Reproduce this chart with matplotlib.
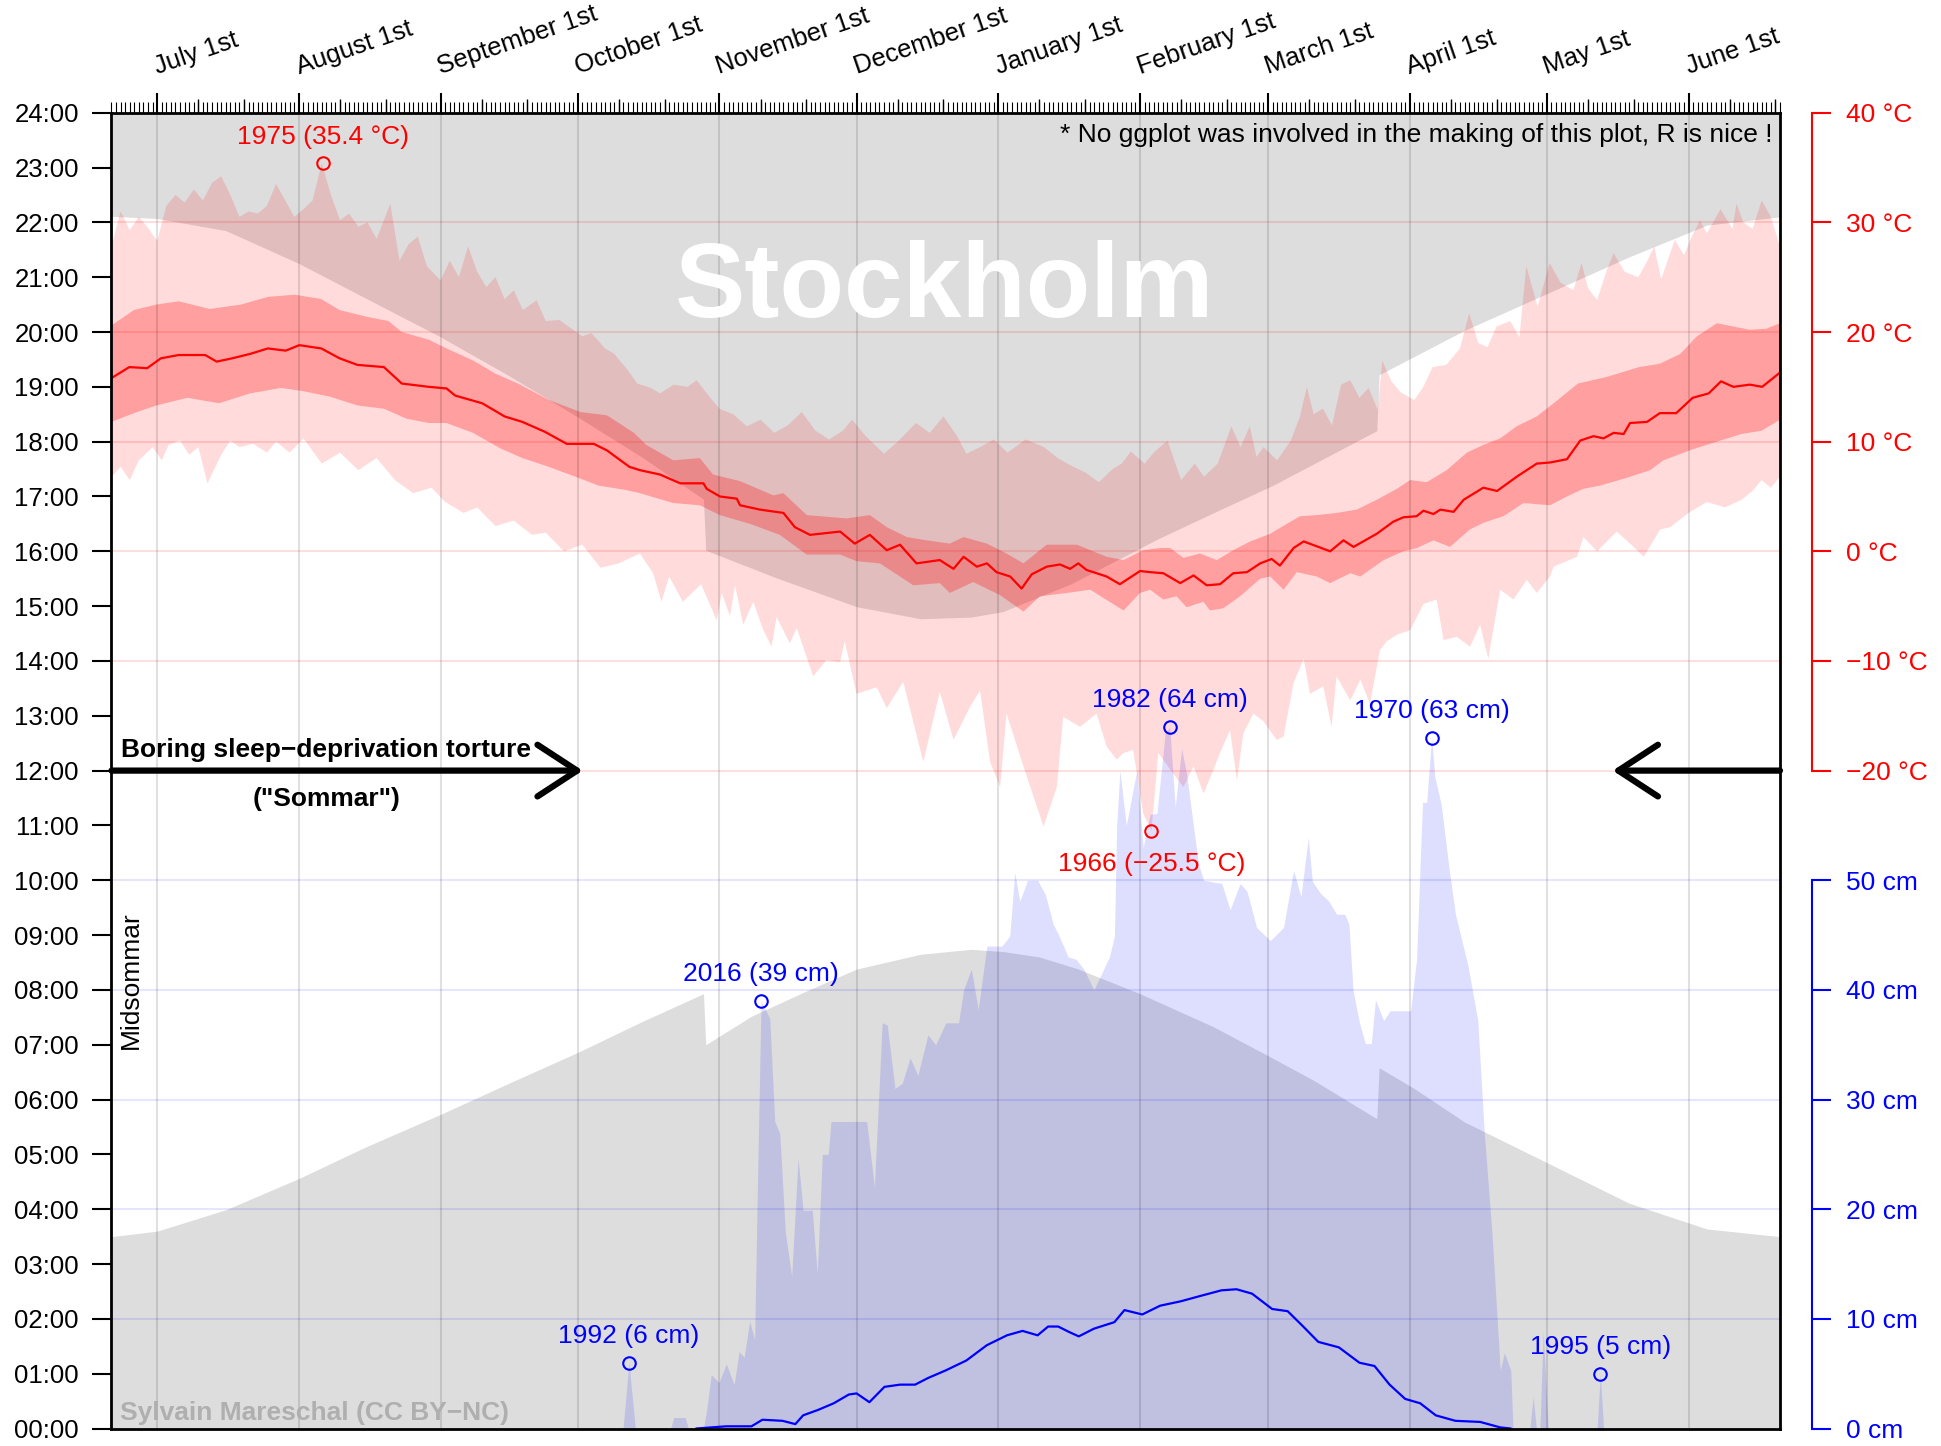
import numpy as np
import matplotlib
matplotlib.use("Agg")
import matplotlib.pyplot as plt
from matplotlib.ticker import FixedLocator

plt.rcParams['font.family'] = ['Liberation Sans', 'DejaVu Sans']
MINUS = '\u2212'

# ---------------- data (x = days since June 21st, midsommar) ----------------
month_days = [10, 41, 72, 102, 133, 163, 194, 225, 253, 284, 314, 345]
month_labels = ['July 1st', 'August 1st', 'September 1st', 'October 1st',
                'November 1st', 'December 1st', 'January 1st', 'February 1st',
                'March 1st', 'April 1st', 'May 1st', 'June 1st']

# sunrise / sunset, local clock time in hours (DST steps end of Oct / end of Mar)
sunrise = [(0, 3.50), (10, 3.60), (25, 3.99), (41, 4.56), (56, 5.15), (72, 5.73),
           (87, 6.30), (102, 6.86), (116, 7.42), (129.5, 7.93), (130, 7.00),
           (140, 7.52), (152, 7.98), (163, 8.38), (177, 8.65), (188, 8.74),
           (195, 8.70), (203, 8.60), (211.5, 8.38), (225, 7.93), (241, 7.33),
           (253, 6.80), (263, 6.35), (276.8, 5.65), (277.3, 6.58), (285, 6.20),
           (296, 5.59), (314, 4.85), (332, 4.11), (349, 3.64), (365, 3.50)]
sunset = [(0, 22.11), (10, 22.07), (25, 21.85), (41, 21.25), (56, 20.60),
          (72, 19.91), (87, 19.20), (102, 18.45), (116, 17.72), (129.5, 16.95),
          (130, 16.02), (145, 15.53), (163, 14.99), (177, 14.77), (188, 14.80),
          (195, 14.90), (210, 15.41), (229, 16.23), (241, 16.70), (254, 17.20),
          (276.8, 18.20), (277.3, 19.22), (296, 20.03), (314, 20.70),
          (332, 21.37), (349, 21.95), (365, 22.10)]

# temperatures (deg C)
record_max = [(0,27.8),(2,31.0),(4,29.3),(6,30.5),(8,29.5),(10,28.3),(12,31.5),(14,32.5),(16,31.8),
    (18,33.0),(20,32.0),(22,33.6),(24,34.2),(26,32.5),(28,30.5),(30,31.0),(32,30.8),(34,31.5),
    (36,33.5),(38,32.0),(40,30.5),(42,31.2),(44,32.0),(46,35.4),(48,32.5),(50,30.2),(52,30.8),
    (54,29.6),(56,30.0),(58,28.5),(61,31.7),(63,26.5),(65,28.0),(67,28.7),(69,26.0),(72,24.7),
    (74,26.5),(76,25.0),(78,27.8),(80,25.5),(82,24.1),(84,25.0),(86,23.0),(88,23.8),(90,22.0),
    (93,22.9),(95,21.0),(98,21.1),(100,20.5),(103,19.6),(105,19.9),(108,18.5),(110,18.0),
    (113,16.5),(115,15.3),(118,14.9),(120,14.4),(123,15.2),(126,15.0),(128,15.6),(131,14.0),
    (133,13.0),(136,12.5),(139,11.4),(142,12.0),(145,10.8),(148,11.5),(151,12.7),(154,11.0),
    (157,10.2),(160,11.0),(162,12.0),(165,10.5),(169,8.9),(172,10.0),(176,11.7),(179,10.8),
    (182,12.3),(185,10.5),(187,8.9),(190,9.5),(193,10.2),(196,9.0),(200,10.2),(204,9.5),
    (207,8.5),(210,7.8),(213,7.2),(216,6.3),(219,7.5),(221,8.0),(223,9.1),(226,8.0),(228,9.0),
    (231,10.1),(234,6.5),(237,8.0),(239,6.8),(242,8.0),(245,11.4),(247,9.5),(249,11.4),
    (250.5,8.6),(252,9.5),(255,8.3),(258,10.1),(260,12.3),(261.5,15.0),(263,12.5),(265,13.0),
    (267,11.5),(269,15.2),(271,15.6),(273,14.0),(275,14.9),(277,12.9),(278,17.4),(280,15.5),
    (282,14.5),(285,13.8),(287,15.0),(289,16.8),(292,17.0),(295,18.5),(297,21.7),(299,19.0),
    (301,18.6),(303,20.5),(306,21.0),(308,19.5),(309.5,26.0),(312,22.3),(314.6,26.3),(317,24.5),
    (319.8,23.8),(321.6,26.3),(323,24.0),(325,22.9),(327,25.5),(328.6,27.2),(331,25.5),
    (334,25.0),(336,26.5),(337.5,27.8),(339,24.8),(342,28.4),(344,27.0),(345.5,28.5),
    (347.5,30.2),(349,29.0),(352,31.2),(354.6,29.4),(355.5,31.7),(357,30.0),(359,29.4),
    (361,32.0),(363,30.5),(365,27.8)]

record_min = [(0,6.8),(2,7.7),(4,6.5),(6,8.3),(9,9.5),(11,8.3),(12.5,9.7),(15,10.1),(17,8.8),
    (19,9.5),(21,6.2),(24,8.8),(26,10.1),(28,9.5),(31,9.8),(34,9.0),(36,10.0),(39,9.0),(42,10.3),
    (46,8.0),(50,9.0),(54,7.4),(58,8.5),(62,6.5),(66,5.3),(70,5.8),(73,4.5),(77,3.5),(80,4.0),
    (84,2.3),(88,2.8),(92,1.5),(95,1.7),(99,0.0),(103,0.6),(107,-1.5),(111,-1.1),(115.6,-0.2),
    (118.5,-2.0),(120.3,-4.6),(122,-2.3),(125,-4.6),(129,-3.0),(132.4,-6.3),(133.5,-3.8),
    (135.3,-5.9),(136.4,-3.1),(138.2,-6.7),(140.4,-4.6),(142.6,-7.2),(144.4,-8.7),(145.5,-6.0),
    (148.4,-8.4),(149.9,-7.0),(153.5,-11.4),(156.4,-9.9),(159.4,-10.1),(160.4,-8.2),(163,-13.0),
    (167.4,-12.4),(169.6,-14.3),(173.2,-11.9),(177.6,-19.2),(181.2,-12.8),(184.2,-17.2),
    (187.8,-14.2),(190,-12.7),(192.2,-19.2),(194.4,-21.5),(195.8,-14.8),(199.5,-19.6),
    (203.9,-25.1),(206.8,-21.5),(208.2,-15.1),(211.9,-16.0),(215.5,-14.8),(217.7,-17.8),
    (219.9,-19.0),(221.4,-18.4),(223.5,-18.1),(225.7,-23.9),(227.5,-25.5),(229,-18.4),
    (231.6,-19.9),(234.5,-21.5),(236.7,-19.6),(238.9,-22.1),(240.7,-20.3),(242.5,-18.4),
    (244.7,-16.3),(246.2,-20.9),(247.6,-16.6),(249.8,-14.8),(252,-15.5),(254.9,-17.2),
    (256.4,-16.9),(258.6,-12.0),(260.8,-9.8),(262.2,-13.0),(265.1,-12.3),(266.9,-16.0),
    (268,-11.4),(271,-13.6),(273.2,-11.7),(275.3,-13.9),(277.5,-9.0),(279,-8.2),(281.2,-7.6),
    (284.1,-7.2),(287,-4.8),(289.9,-4.4),(291.4,-8.1),(294.3,-7.8),(297.2,-8.7),(299.4,-6.7),
    (301.2,-9.8),(303.8,-3.5),(306.7,-4.4),(309.6,-2.6),(311.8,-3.8),(314.7,-2.3),(315.5,-1.4),
    (320.6,-0.5),(322,1.3),(325,0.0),(329.3,1.8),(333,0.4),(335.2,-0.5),(338.8,2.0),(341,2.2),
    (345,3.5),(349,4.5),(353,4.0),(356.6,4.7),(359,5.5),(361,6.5),(363,5.8),(365,6.8)]

band_high = [(0,20.6),(4.9,22.0),(9.8,22.5),(14.7,22.8),(21.5,22.1),(28.3,22.5),(34.2,23.2),
    (40.1,23.4),(45.9,23.0),(49.9,22.0),(55.7,21.4),(60.6,21.0),(63.5,20.0),(69.4,19.3),
    (73.3,18.5),(79.1,17.4),(84,16.2),(88.9,15.3),(95.7,13.8),(102.6,12.7),(108.4,12.4),
    (114.3,10.8),(117,9.7),(122.9,8.3),(128.7,8.5),(131.6,7.0),(137.5,6.4),(144.8,5.1),
    (147,5.3),(152.1,3.3),(160.8,3.0),(165.9,3.3),(169.6,2.2),(174,1.3),(178.3,1.0),
    (183.4,0.7),(186.4,1.3),(191.5,0.7),(195.8,-0.2),(199.5,-1.1),(204.6,0.6),(211.2,0.6),
    (217.7,-0.5),(221.4,-0.8),(225.7,0.1),(229.4,0.3),(231.6,0.3),(234.5,-0.6),(238.1,-0.2),
    (241.8,-0.8),(245.4,0.1),(249.1,0.9),(253.5,1.6),(257.1,2.5),(260,3.2),(263.7,3.3),
    (268,3.5),(272.4,3.8),(276.8,4.7),(281.2,5.7),(284.1,6.5),(287.7,6.3),(292.1,7.4),
    (296.5,9.0),(300.1,9.7),(303.8,10.3),(307.4,11.4),(311.8,12.3),(315.5,13.5),(320.8,15.3),
    (327.1,15.9),(334.2,16.8),(338.7,17.1),(343.2,18.0),(346.8,19.6),(351.2,20.8),
    (354.8,20.5),(358.4,20.2),(362,20.3),(365,20.8)]

band_low = [(0,11.8),(4.9,12.6),(9.8,13.3),(16.6,14.0),(23.5,13.5),(30.3,14.4),(37.1,14.9),
    (42,14.6),(47.8,14.1),(53.8,13.3),(59.6,13.0),(64.5,12.1),(69.4,11.7),(73.3,11.7),
    (79.1,10.8),(85,9.4),(89.9,8.5),(95.7,7.7),(101.5,6.8),(106.5,6.0),(112.4,5.6),(115.6,5.3),
    (122.9,4.4),(128.7,4.2),(133.1,3.3),(139.7,2.5),(146.2,1.5),(152.1,-0.3),(159.4,-0.3),
    (163,-0.9),(168.1,-1.1),(175.4,-3.1),(181.2,-2.9),(183.4,-3.8),(188.5,-2.8),(194.4,-4.0),
    (199.5,-5.5),(203.1,-4.1),(209,-3.8),(214.1,-3.5),(221.4,-5.4),(225,-3.8),(227.2,-3.5),
    (230.1,-4.4),(233,-4.1),(235.2,-5.1),(238.9,-4.6),(240.3,-5.4),(243.2,-5.2),(246.9,-4.1),
    (251.3,-2.5),(253.5,-2.3),(256.4,-3.5),(259.3,-1.9),(263.7,-2.3),(266.6,-2.9),(271,-2.0),
    (273.2,-2.3),(278.3,-0.8),(282.6,0.0),(285.6,0.3),(289.2,1.0),(292.8,0.4),(297.2,2.0),
    (300.1,2.6),(304.5,3.2),(308.9,4.4),(314.7,4.2),(318.4,5.0),(322,5.7),(325.7,6.0),
    (331.5,6.7),(336.6,7.4),(339.5,8.3),(345.9,9.3),(351.2,10.0),(356.6,10.7),(361,11.0),
    (365,12.0)]

mean_temp = [(0,15.8),(3.9,16.8),(7.8,16.7),(10.8,17.6),(14.7,17.9),(20.5,17.9),(23,17.3),
    (26.4,17.6),(30.3,18.0),(34.2,18.5),(38.1,18.3),(41.1,18.8),(45.9,18.5),(49.9,17.6),
    (53.8,17.0),(59.6,16.8),(63.5,15.3),(69.4,15.0),(73.3,14.85),(75.2,14.2),(81.1,13.5),
    (86,12.3),(89.9,11.8),(94.8,10.9),(99.6,9.8),(105.5,9.8),(108.4,9.2),(113.3,7.7),
    (115.6,7.4),(120,7.0),(124.4,6.2),(129.5,6.2),(130.2,5.7),(133.1,5.0),(136.8,4.8),
    (137.5,4.2),(141.9,3.8),(147,3.5),(149.5,2.2),(152.8,1.5),(159.4,1.8),(162.6,0.7),
    (165.9,1.5),(169.6,0.1),(172.5,0.6),(176.1,-1.1),(181.2,-0.8),(184.2,-1.6),(186.4,-0.5),
    (189.3,-1.4),(191.5,-1.1),(193.6,-1.9),(196.6,-2.3),(199.1,-3.4),(201.3,-2.1),
    (204.6,-1.4),(207.5,-1.2),(209.7,-1.6),(211.5,-1.1),(213.3,-1.7),(217.7,-2.3),
    (220.6,-3.0),(225,-1.8),(227.2,-1.9),(230.1,-2.0),(233.8,-2.9),(236.7,-2.2),(239.6,-3.1),
    (242.5,-3.0),(245.4,-2.0),(248.4,-1.9),(251.3,-1.1),(253.8,-0.7),(255.6,-1.3),(258.6,0.3),
    (260.8,0.9),(266.6,0.0),(269.5,1.0),(271.7,0.4),(276.8,1.6),(280.4,2.7),(282.6,3.1),
    (285.5,3.2),(287,3.7),(289.2,3.4),(290.7,3.8),(293.6,3.6),(295.8,4.7),(300.1,5.8),
    (303.1,5.5),(307.4,6.8),(311.8,8.0),(314.7,8.1),(318.4,8.4),(321.3,10.1),(324.2,10.5),
    (326.4,10.3),(328.6,10.8),(330.8,10.7),(332.2,11.7),(335.9,11.8),(338.7,12.6),
    (342.3,12.6),(345.9,14.0),(349.4,14.4),(352.1,15.5),(354.8,15.0),(358.4,15.2),
    (361.1,15.0),(365,16.3)]

# snow depth (cm)
snow_max = [(0,0),(111.9,0),(113.2,6.0),(114.6,0),(122.3,0),(123,1.0),(125.5,1.0),(126.2,0),
    (129.5,0),(130.2,1.7),(131.2,4.9),(132.9,4.2),(134.5,5.9),(136.2,4.0),(137.3,7.0),
    (138.4,6.5),(139.6,9.8),(140.7,8.1),(141.2,19.8),(142.1,39.0),(144,37.4),(145.1,28.0),
    (146.2,26.9),(147.4,17.9),(148.8,13.9),(150.2,24.6),(151.3,19.9),(153.3,19.9),(154.4,14.1),
    (155.5,25.0),(156.8,25.0),(157.4,28.0),(165.2,28.0),(166.9,22.0),(168.6,37.0),(169.7,36.8),
    (171.4,31.0),(173,31.5),(174.7,33.8),(176.4,32.2),(178.6,35.9),(180.3,35.0),(182.5,37.0),
    (185.3,37.0),(186.4,40.0),(188.1,41.9),(189.6,38.2),(191.5,44.0),(194.8,44.0),(196.5,44.9),
    (197.6,50.7),(198.7,48.1),(200.4,50.0),(202.6,50.0),(204.3,48.7),(206,46.0),(207.1,45.1),
    (209.3,43.0),(211,42.8),(212.7,41.9),(214.9,40.0),(218.3,43.0),(219.4,44.9),(219.9,55.0),
    (220.6,60.0),(222,55.0),(224.3,60.0),(225.7,53.0),(227.2,56.0),(228.7,56.1),(230.5,63.4),
    (231.5,64.0),(232.7,56.7),(234.1,62.0),(235.2,59.7),(236.7,54.9),(237.8,51.5),(238.9,50.0),
    (242.9,49.7),(244.7,47.3),(246.9,49.7),(248.4,49.0),(250.5,45.7),(253.5,44.5),(256.4,45.7),
    (258.6,50.9),(260.2,48.5),(261.8,53.9),(262.7,49.9),(264.5,48.8),(266.3,48.1),(268,46.9),
    (269.8,46.9),(270.7,46.0),(271.6,40.0),(273,37.0),(274.3,35.1),(275.6,35.1),(276.5,39.1),
    (278.3,37.2),(279.7,38.1),(284.2,38.1),(285.5,42.8),(286.8,57.1),(287.7,57.1),(288.8,63.0),
    (289.5,59.4),(290.9,56.9),(292.6,51.1),(294,46.9),(296.7,42.3),(298.9,37.2),(300.3,27.0),
    (302,17.8),(303.8,5.3),(304.7,6.9),(306.1,5.3),(306.6,0),(310.3,0),(311,2.9),(311.7,0),
    (312.5,0),(313.2,8.9),(314.3,0),(325,0),(325.7,5.0),(326.4,0),(365,0)]

snow_mean = [(128,0),(134.5,0.2),(140,0.2),(142.4,0.8),(146.8,0.7),(149.6,0.4),(151.3,1.2),
    (154.6,1.7),(158,2.3),(161.3,3.1),(163,3.2),(165.8,2.4),(169.1,3.8),(172.5,4.0),
    (175.8,4.0),(178.6,4.6),(182.5,5.3),(187,6.2),(191.5,7.6),(195.9,8.5),(199.3,8.9),
    (202.6,8.5),(204.9,9.3),(207.1,9.3),(209.5,8.8),(211.6,8.4),(214.9,9.1),(219.4,9.7),
    (221.6,10.8),(225.5,10.4),(229.4,11.2),(233.9,11.6),(238.3,12.1),(242.8,12.6),(246.1,12.7),
    (249.5,12.3),(253.9,10.9),(257.3,10.7),(260.7,9.3),(264,7.9),(268.5,7.4),(273,6.0),
    (276.3,5.7),(279.6,4.0),(283,2.7),(286.3,2.3),(289.7,1.2),(294,0.7),(299.4,0.6),
    (303.8,0.1),(306,0)]

# records
temp_record_days = [46.2, 227.5]
temp_record_vals = [35.4, -25.5]
temp_record_years = [1975, 1966]
snow_record_days = [231.5, 288.8, 142.1, 113.2, 325.7]
snow_record_vals = [64, 63, 39, 6, 5]
snow_record_years = [1982, 1970, 2016, 1992, 1995]

hour_ticks = list(range(0, 25))
temp_ticks = [-20, -10, 0, 10, 20, 30, 40]
snow_ticks = [0, 10, 20, 30, 40, 50]


# ---------------- helpers ----------------
def t2h(t):
    return (np.asarray(t, float) + 80.0) / 5.0   # 40 degC -> 24:00, -20 degC -> 12:00


def c2h(c):
    return np.asarray(c, float) / 5.0            # 50 cm -> 10:00


def fmt_num(v):
    s = f'{v:g}'
    return s.replace('-', MINUS)


RED_BAND = (1, 0, 0, 0.14)
RED_DARK = (1, 0, 0, 0.27)
BLUE_FILL = (0, 0, 1, 0.13)
NIGHT = '#DDDDDD'

fig = plt.figure(figsize=(19.41, 14.46), dpi=100)
ax = fig.add_axes([0.05744, 0.0121, 0.8596, 0.90996])
ax.set_xlim(0, 365)
ax.set_ylim(0, 24)

# night
sr_d, sr_h = zip(*sunrise)
ss_d, ss_h = zip(*sunset)
ax.fill_between(ss_d, ss_h, 24, color=NIGHT, lw=0, zorder=1)
ax.fill_between(sr_d, 0, sr_h, color=NIGHT, lw=0, zorder=1)

# temperature record band
mx_d, mx_t = zip(*record_max)
mn_d, mn_t = zip(*record_min)
ax.fill(np.r_[mx_d, mn_d[::-1]], np.r_[t2h(mx_t), t2h(mn_t)[::-1]],
        color=RED_BAND, lw=0, zorder=2)
# central band
bh_d, bh_t = zip(*band_high)
bl_d, bl_t = zip(*band_low)
ax.fill(np.r_[bh_d, bl_d[::-1]], np.r_[t2h(bh_t), t2h(bl_t)[::-1]],
        color=RED_DARK, lw=0, zorder=3)

# snow max
sm_d, sm_c = zip(*snow_max)
ax.fill_between(sm_d, 0, c2h(sm_c), color=BLUE_FILL, lw=0, zorder=3)

# grid
for d in month_days:
    ax.axvline(d, color='k', alpha=0.12, lw=1.5, zorder=4)
for t in temp_ticks:
    ax.axhline(t2h(t), color='red', alpha=0.13, lw=1.5, zorder=4)
for c in snow_ticks[1:]:
    ax.axhline(c2h(c), color='blue', alpha=0.10, lw=1.5, zorder=4)

# mean lines
m_d, m_t = zip(*mean_temp)
ax.plot(m_d, t2h(m_t), color='red', lw=1.6, zorder=6)
sn_d, sn_c = zip(*snow_mean)
ax.plot(sn_d, c2h(sn_c), color='blue', lw=1.6, zorder=6)

# record markers + labels
for d, v, yr in zip(temp_record_days, temp_record_vals, temp_record_years):
    y = t2h(v)
    ax.plot([d], [y], 'o', mfc='none', mec='red', ms=9, mew=1.5, zorder=7)
    off = 14 if v > 0 else -29
    ax.annotate(f'{yr} ({fmt_num(v)} °C)', xy=(d, y), xytext=(0, off),
                textcoords='offset points', ha='center', va='baseline',
                color='red', fontsize=19, zorder=8)
for d, v, yr in zip(snow_record_days, snow_record_vals, snow_record_years):
    y = c2h(v)
    ax.plot([d], [y], 'o', mfc='none', mec='blue', ms=9, mew=1.5, zorder=7)
    ax.annotate(f'{yr} ({v} cm)', xy=(d, y), xytext=(0, 14),
                textcoords='offset points', ha='center', va='baseline',
                color='blue', fontsize=19, zorder=8)

# arrows
arrow_props = dict(arrowstyle='->,head_length=0.95,head_width=0.62', lw=4.5,
                   color='k', mutation_scale=30, shrinkA=0, shrinkB=0,
                   capstyle='round', joinstyle='round')
ax.annotate('', xy=(103.1, 12), xytext=(0, 12), arrowprops=arrow_props, zorder=9)
ax.annotate('', xy=(328.4, 12), xytext=(365, 12), arrowprops=arrow_props, zorder=9)

# texts
ax.text(47.0, 12.25, f'Boring sleep{MINUS}deprivation torture', ha='center',
        va='baseline', fontsize=19, fontweight='bold', zorder=9)
ax.text(47.0, 11.36, '("Sommar")', ha='center', va='baseline', fontsize=19,
        fontweight='bold', zorder=9)
ax.text(4.3, 8.18, 'Midsommar', rotation=90, ha='center', va='center',
        fontsize=19, zorder=9)
ax.text(1.8, 0.155, f'Sylvain Mareschal (CC BY{MINUS}NC)', ha='left', va='baseline',
        fontsize=19, fontweight='bold', color='#AFAFAF', zorder=9)
ax.text(363.3, 23.47, '* No ggplot was involved in the making of this plot, R is nice !',
        ha='right', va='baseline', fontsize=19, zorder=9)
ax.text(182.3, 20.28, 'Stockholm', ha='center', va='baseline', fontsize=76,
        fontweight='bold', color='white', zorder=10)

# ---------------- axes decoration ----------------
for s in ax.spines.values():
    s.set_linewidth(2)
    s.set_zorder(11)

ax.set_yticks(hour_ticks)
ax.set_yticklabels([f'{h:02d}:00' for h in hour_ticks])
ax.tick_params(axis='y', length=14, width=1.5, pad=9.5, labelsize=18.5, right=False)

ax.xaxis.tick_top()
ax.set_xticks(month_days)
ax.set_xticklabels([])
ax.xaxis.set_minor_locator(FixedLocator(np.arange(0, 366)))
ax.tick_params(axis='x', which='major', length=14.4, width=1.5, top=True, bottom=False,
               labeltop=False, labelbottom=False)
ax.tick_params(axis='x', which='minor', length=7.7, width=0.8, top=True, bottom=False)
sec = ax.secondary_xaxis('top')
sec.set_xticks([d + 9 for d in month_days] + [d + 19 for d in month_days])
sec.tick_params(axis='x', length=10, width=1.0, labeltop=False)
sec.spines['top'].set_visible(False)

for d, lab in zip(month_days, month_labels):
    ax.annotate(lab, xy=(d, 1), xycoords=('data', 'axes fraction'), xytext=(0, 28),
                textcoords='offset points', rotation=19, rotation_mode='anchor',
                ha='left', va='baseline', fontsize=18.5, annotation_clip=False)

# right axes: temperature and snow
axT = ax.twinx()
axT.set_ylim(-80, 40)
axC = ax.twinx()
axC.set_ylim(0, 120)
for a, col, ticks, lo, hi, unit in [(axT, 'red', temp_ticks, -20, 40, '°C'),
                                    (axC, 'blue', snow_ticks, 0, 50, 'cm')]:
    for s in ['top', 'bottom', 'left']:
        a.spines[s].set_visible(False)
    a.spines['right'].set_position(('outward', 23))
    a.spines['right'].set_bounds(lo, hi)
    a.spines['right'].set_color(col)
    a.spines['right'].set_linewidth(1.5)
    a.set_yticks(ticks)
    a.set_yticklabels([f'{fmt_num(t)} {unit}' for t in ticks])
    a.tick_params(axis='y', colors=col, length=14, width=1.5, pad=10.5, labelsize=19)

fig.savefig('out.png', dpi=100)
